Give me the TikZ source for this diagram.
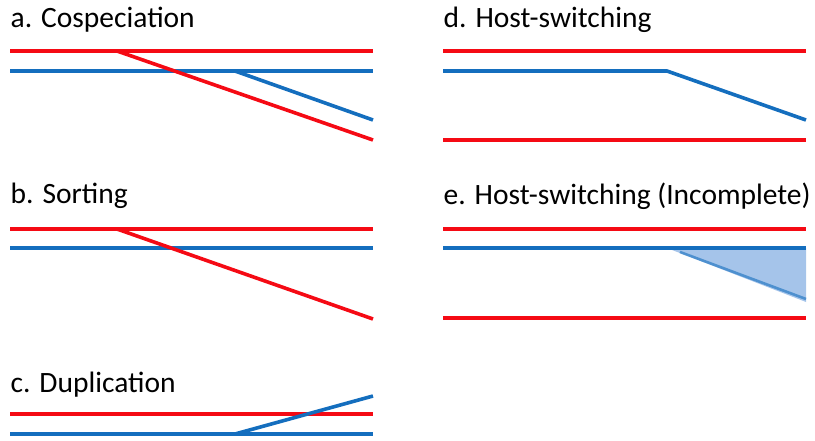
\documentclass[tikz,border=0pt]{standalone}
\usepackage{fontspec}
\setmainfont{Carlito}
\definecolor{hostred}{RGB}{245,10,20}
\definecolor{parablue}{RGB}{20,110,190}
\definecolor{shadeblue}{RGB}{165,196,234}
\tikzset{
  host/.style={draw=hostred, line width=3.6pt},
  para/.style={draw=parablue, line width=3.6pt},
  ttl/.style={anchor=base west, inner sep=0pt, font=\fontsize{29.5}{34}\selectfont},
}
\begin{document}
\begin{tikzpicture}[x=1pt, y=-1pt]
\useasboundingbox (0,0) rectangle (815,440);

% a. Cospeciation
\node[ttl] (ta) at (10.5,27) {a. Cospeciation};
\draw[host] (10,51) -- (373,51);
\draw[para] (10,71) -- (373,71);
\draw[host] (117,51) -- (373,140);
\draw[para] (235,71) -- (373,120);

% b. Sorting
\node[ttl] (tb) at (10.5,203) {b. Sorting};
\draw[host] (10,229) -- (373,229);
\draw[para] (10,248) -- (373,248);
\draw[host] (117,229) -- (373,319);

% c. Duplication
\node[ttl] (tc) at (10.5,392) {c. Duplication};
\draw[host] (10,414) -- (373,414);
\draw[para] (10,434) -- (373,434);
\draw[para] (235,434) -- (373,396);

% d. Host-switching
\node[ttl] (td) at (443.5,27) {d. Host-switching};
\draw[host] (443,51) -- (806,51);
\draw[host] (443,140) -- (806,140);
\draw[para] (443,71) -- (667,71) -- (806,120);

% e. Host-switching (Incomplete): uncertain switch shown as a shaded wedge
\node[ttl] (te) at (443.5,204) {e. Host-switching (Incomplete)};
\draw[host] (443,229) -- (806,229);
\draw[host] (443,318) -- (806,318);
\fill[shadeblue] (667,248) -- (806,248) -- (806,302) -- cycle;
\draw[parablue, line width=2.6pt, opacity=0.6] (680,252) -- (806,299);
\draw[para] (443,248) -- (806,248);
\end{tikzpicture}
\end{document}
